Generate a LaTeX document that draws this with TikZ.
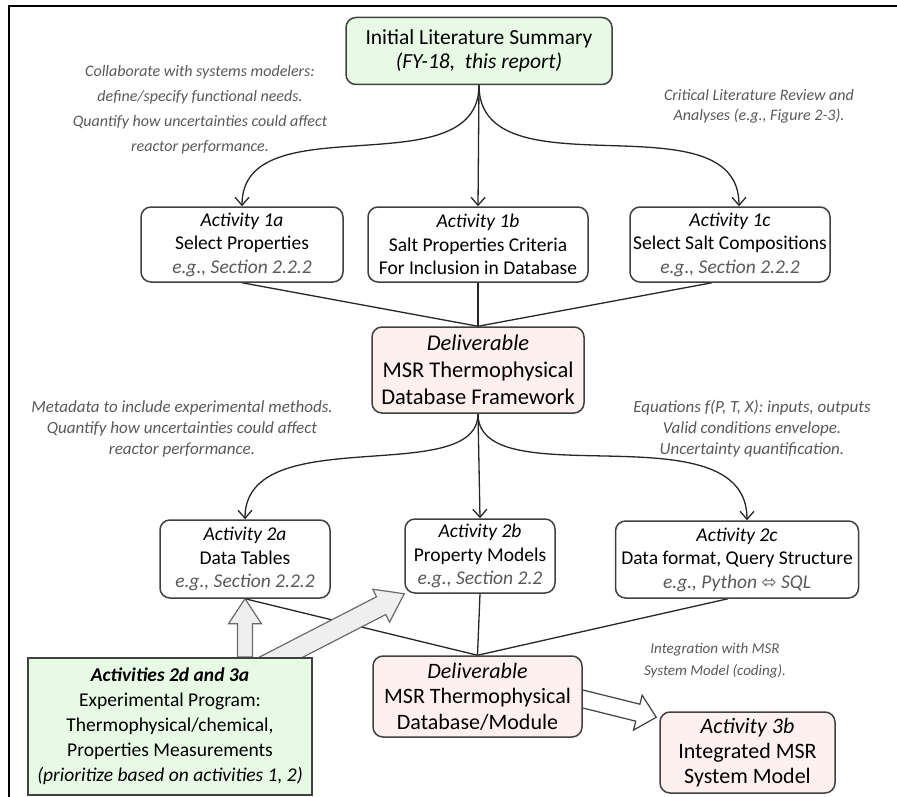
\documentclass[tikz,border=0pt]{standalone}
\usepackage{fontspec}
\setmainfont{Carlito}
\newfontfamily\symfont{DejaVu Sans}
\usetikzlibrary{arrows.meta,calc}
\definecolor{boxline}{HTML}{404040}
\definecolor{greenfill}{RGB}{232,250,230}
\definecolor{pinkfill}{RGB}{255,240,240}
\definecolor{anngray}{HTML}{595959}
\definecolor{arrgray}{HTML}{6A6A6A}
\definecolor{arrfill}{HTML}{EFEFEF}
\pgfdeclarelayer{bg}
\pgfdeclarelayer{mid}
\pgfsetlayers{bg,mid,main}
% style, from, to, shaft half width, head half width, head length
\newcommand{\blockarrow}[6]{%
  \coordinate (ba-h) at ($(#3)!#6!(#2)$);
  \draw[#1] ($(#2)!#4!90:(#3)$) -- ($(ba-h)!#4!90:(#3)$) -- ($(ba-h)!#5!90:(#3)$) -- (#3)
    -- ($(ba-h)!#5!-90:(#3)$) -- ($(ba-h)!#4!-90:(#3)$) -- ($(#2)!#4!-90:(#3)$) -- cycle;
}
\tikzset{
  box/.style={draw=boxline, line width=1.5pt, rounded corners=10pt, fill=white, align=center,
    inner sep=0pt, text=black, font=\fontsize{19.5}{23.5}\selectfont},
  bigbox/.style={box, font=\fontsize{21.5}{26}\selectfont},
  greenbox/.style={bigbox, fill=greenfill, font=\fontsize{21.5}{23.5}\selectfont},
  pinkbox/.style={bigbox, fill=pinkfill},
  ann/.style={align=center, text=anngray, font=\fontsize{16}{21}\selectfont\itshape},
  conn/.style={draw=black!85, line width=1.3pt},
  arr/.style={conn, -{Straight Barb[length=8pt,width=14pt,line width=1.3pt]}},
  grayarrow/.style={draw=arrgray, fill=arrfill, line width=1.2pt, line join=miter},
  whitearrow/.style={draw=boxline, fill=white, line width=1.2pt, line join=miter},
}
\newcommand{\eg}[1]{{\color{anngray}\itshape #1}}
\begin{document}
\begin{tikzpicture}[x=1pt,y=-1pt]
\useasboundingbox (0,0) rectangle (897,797);
\draw[line width=2pt, black] (9,797) -- (9,6) -- (897,6);

% nodes
\node[greenbox, minimum width=266, minimum height=67] (T) at (479,51)
  {Initial Literature Summary\\ \textit{(FY-18,~~this report)}};
\node[box, minimum width=202, minimum height=75] (a1) at (242,244.5)
  {\textit{Activity 1a}\\Select Properties\\\eg{e.g., Section 2.2.2}};
\node[box, minimum width=220, minimum height=75] (b1) at (478,244.5)
  {\textit{Activity 1b}\\Salt Properties Criteria\\For Inclusion in Database};
\node[box, minimum width=200, minimum height=75] (c1) at (730,244.5)
  {\textit{Activity 1c}\\Select Salt Compositions\\\eg{e.g., Section 2.2.2}};
\node[pinkbox, minimum width=212, minimum height=86, font=\fontsize{22.5}{27}\selectfont] (D1) at (478,370)
  {\textit{Deliverable}\\MSR Thermophysical\\Database Framework};
\node[box, minimum width=170, minimum height=78] (a2) at (245,559)
  {\textit{Activity 2a}\\Data Tables\\\eg{e.g., Section 2.2.2}};
\node[box, minimum width=150, minimum height=74] (b2) at (480,556)
  {\textit{Activity 2b}\\Property Models\\\eg{e.g., Section 2.2}};
\node[box, minimum width=243, minimum height=77] (c2) at (737,559.5)
  {\textit{Activity 2c}\\Data format, Query Structure\\\eg{e.g., Python {\upshape\symfont\fontsize{18}{18}\selectfont ⬄} SQL}};
\node[draw=boxline, line width=2pt, fill=greenfill, align=center, inner sep=0pt,
  minimum width=284, minimum height=137, font=\fontsize{19.5}{25}\selectfont] (G) at (170,726.5)
  {\textbf{\textit{Activities 2d and 3a}}\\Experimental Program:\\Thermophysical/chemical,\\Properties Measurements\\\textit{(prioritize based on activities 1, 2)}};
\node[pinkbox, minimum width=209, minimum height=81, font=\fontsize{22}{25.5}\selectfont] (D2) at (477.5,696.5)
  {\textit{Deliverable}\\MSR Thermophysical\\Database/Module};
\node[pinkbox, minimum width=175, minimum height=81, font=\fontsize{22}{25}\selectfont] (b3) at (747.5,752.5)
  {\textit{Activity 3b}\\Integrated MSR\\System Model};

% annotations
\node[ann, font=\fontsize{16}{25}\selectfont\itshape] (n1) at (200,110) {Collaborate with systems modelers:\\define/specify functional needs.\\Quantify how uncertainties could affect\\reactor performance.};
\node[ann, font=\fontsize{16}{20}\selectfont\itshape] (n2) at (759,106) {Critical Literature Review and\\Analyses (e.g., Figure 2-3).};
\node[ann, font=\fontsize{17}{21}\selectfont\itshape] (n3) at (182,429) {Metadata to include experimental methods.\\Quantify how uncertainties could affect\\reactor performance.};
\node[ann, font=\fontsize{17}{21}\selectfont\itshape] (n4) at (752,429) {Equations f(P, T, X): inputs, outputs\\Valid conditions envelope.\\Uncertainty quantification.};
\node[ann, font=\fontsize{15}{22}\selectfont\itshape] (n5) at (715,661) {Integration with MSR\\System Model (coding).};

% connectors
\begin{pgfonlayer}{bg}
\draw[arr] (T.south) to[out=-90,in=90] (a1.north);
\draw[arr] (T.south) -- (b1.north);
\draw[arr] (T.south) to[out=-90,in=90] ([xshift=9pt]c1.north);
\draw[conn] (a1.south) -- (D1.north);
\draw[conn] (b1.south) -- (D1.north);
\draw[conn] ([xshift=-18pt]c1.south) -- (D1.north);
\draw[arr] (D1.south) to[out=-90,in=90,out looseness=0.75] (a2.north);
\draw[arr] (D1.south) -- (b2.north);
\draw[arr] (D1.south) to[out=-90,in=90,out looseness=0.75] ([xshift=10pt]c2.north);
\draw[conn] (a2.south) -- (D2.north);
\draw[conn] (b2.south) -- (D2.north);
\draw[conn] ([xshift=-9pt]c2.south) -- (D2.north);
\end{pgfonlayer}

\begin{pgfonlayer}{mid}
\coordinate (u0) at (a2.south |- G.north);
\blockarrow{grayarrow}{u0}{a2.south}{7.5pt}{16.5pt}{25pt}
\coordinate (d0) at ([xshift=92pt,yshift=-10pt]G.north);
\coordinate (d1) at (b2.south west);
\blockarrow{grayarrow}{d0}{d1}{10pt}{18.5pt}{26pt}
\coordinate (e0) at ([xshift=-10pt]D2.east);
\coordinate (e1) at ([xshift=-3pt,yshift=-6pt]b3.north west);
\blockarrow{whitearrow}{e0}{e1}{8.75pt}{18pt}{19pt}
\end{pgfonlayer}
\end{tikzpicture}
\end{document}
